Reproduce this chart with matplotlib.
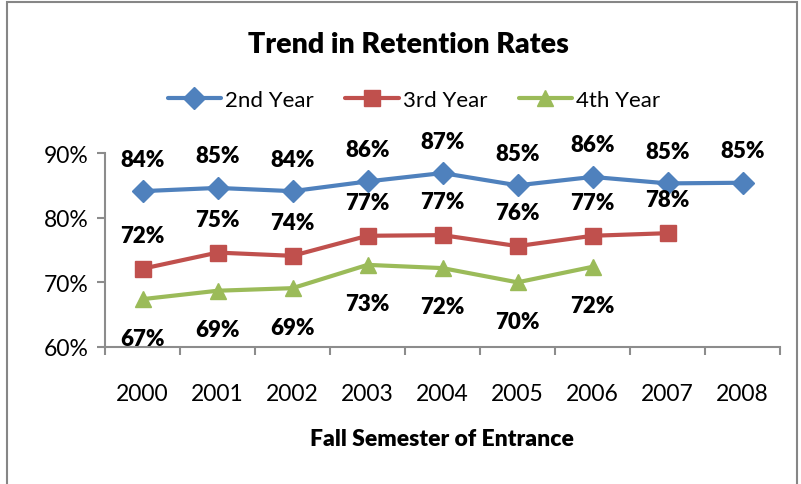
import matplotlib
matplotlib.use("Agg")
import matplotlib.pyplot as plt
from matplotlib.patches import Rectangle

years = ["2000", "2001", "2002", "2003", "2004", "2005", "2006", "2007", "2008"]
second_year = [84.1, 84.6, 84.1, 85.6, 86.9, 85.0, 86.3, 85.3, 85.4]
third_year = [72.1, 74.6, 74.1, 77.2, 77.3, 75.6, 77.2, 77.6]
fourth_year = [67.4, 68.7, 69.1, 72.7, 72.2, 70.0, 72.4]
y_ticks = [60, 70, 80, 90]

BLUE = "#4F81BD"
RED = "#C0504D"
GREEN = "#9BBB59"
AXIS_GRAY = "#8C8C8C"

plt.rcParams["font.family"] = ["Lato", "DejaVu Sans"]

fig = plt.figure(figsize=(8.01, 4.85), dpi=100)
ax = fig.add_axes([105 / 801, 1 - 348 / 485, 675 / 801, 194 / 485])

# outer chart frame
fig.patches.append(Rectangle((7 / 801, -0.05), 790 / 801, 1.05 - 3 / 485,
                             transform=fig.transFigure, fill=False,
                             edgecolor="#868686", linewidth=1.5))

series = [
    ("2nd Year", second_year, BLUE, "D", 11, 23),
    ("3rd Year", third_year, RED, "s", 11, 24),
    ("4th Year", fourth_year, GREEN, "^", 12, -28),
]

for name, vals, color, marker, ms, off in series:
    xs = list(range(len(vals)))
    ax.plot(xs, vals, color=color, lw=3, marker=marker, markersize=ms,
            label=name, solid_capstyle="round")
    for x, v in zip(xs, vals):
        ax.annotate(f"{v:.0f}%", (x, v), xytext=(0, off), textcoords="offset points",
                    ha="center", va="center", fontsize=16, fontweight="heavy")

ax.set_xlim(-0.5, len(years) - 0.5)
ax.set_ylim(60, 90)
ax.set_yticks(y_ticks)
ax.set_yticklabels([f"{t}%" for t in y_ticks])
ax.set_xticks(range(len(years)))
ax.set_xticklabels(years)
ax.set_xticks([i - 0.5 for i in range(len(years) + 1)], minor=True)

for side in ("top", "right"):
    ax.spines[side].set_visible(False)
for side in ("left", "bottom"):
    ax.spines[side].set_color(AXIS_GRAY)
    ax.spines[side].set_linewidth(1.5)

ax.tick_params(axis="x", which="major", length=0, pad=26, labelsize=16.5)
ax.tick_params(axis="x", which="minor", length=6, width=1.5, color=AXIS_GRAY)
ax.tick_params(axis="y", length=6, width=1.5, color=AXIS_GRAY, pad=6, labelsize=16.5)

fig.text(408 / 801, 1 - 45 / 485, "Trend in Retention Rates", ha="center", va="center",
         fontsize=20.5, fontweight="heavy")
fig.text(442 / 801, 1 - 440 / 485, "Fall Semester of Entrance", ha="center", va="center",
         fontsize=16.5, fontweight="heavy")

fig.legend(loc="center", bbox_to_anchor=(414 / 801, 1 - 101 / 485), ncol=3, frameon=False,
           fontsize=16, handlelength=2.4, handletextpad=0.2, columnspacing=1.4)

fig.savefig("out.png", dpi=100)
